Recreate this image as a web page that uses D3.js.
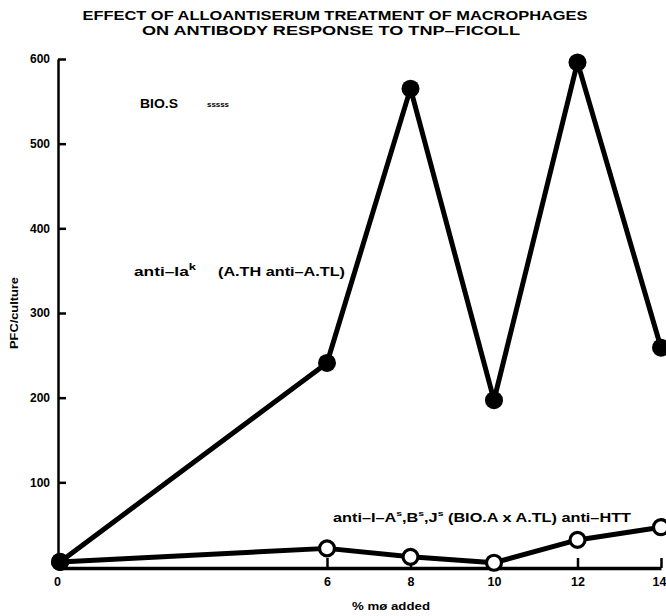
<!DOCTYPE html>
<html>
<head>
<meta charset="utf-8">
<script src="https://cdn.jsdelivr.net/npm/d3@7"></script>
<style>
  html, body { margin: 0; padding: 0; background: #fff; }
  svg { display: block; }
  text { font-family: "Liberation Sans", Arial, Helvetica, sans-serif; font-weight: bold; fill: #000; }
</style>
</head>
<body>
<svg id="chart" width="666" height="616"></svg>
<script>
// ---- data ----
const percentAdded = [0, 6, 8, 10, 12, 14];
const antiIak = [6, 241, 565, 197, 596, 259];          // filled circles
const antiIAsBsJs = [6, 22, 12, 5, 32, 47];             // open circles
const yTicks = [0, 100, 200, 300, 400, 500, 600];
const xTicks = [0, 6, 8, 10, 12, 14];
const titleLines = ["EFFECT OF ALLOANTISERUM TREATMENT OF MACROPHAGES", "ON ANTIBODY RESPONSE TO TNP\u2013FICOLL"];

const svg = d3.select("#chart");

// polylinear x scale (axis is compressed between 0 and 6)
const x = d3.scaleLinear().domain([0, 6, 14]).range([60, 327, 661]);
const y = d3.scaleLinear().domain([0, 600]).range([567, 59]);

// title
svg.append("text").attr("x", 335).attr("y", 20).attr("text-anchor", "middle")
  .attr("font-size", 13.5).attr("textLength", 505).attr("lengthAdjust", "spacingAndGlyphs")
  .text(titleLines[0]);
svg.append("text").attr("x", 331).attr("y", 35).attr("text-anchor", "middle")
  .attr("font-size", 13.5).attr("textLength", 378).attr("lengthAdjust", "spacingAndGlyphs")
  .text(titleLines[1]);

// y axis
const yAxis = svg.append("g").attr("transform", `translate(${x(0) - 2},0)`)
  .call(d3.axisLeft(y).tickValues(yTicks.filter(d => d > 0)).tickSizeInner(-8).tickSizeOuter(0).tickPadding(8));
yAxis.select(".domain").attr("stroke", "#000").attr("stroke-width", 2.5);
yAxis.selectAll(".tick line").attr("stroke", "#000").attr("stroke-width", 2.5);
yAxis.selectAll(".tick text").attr("font-size", 12).attr("font-family", "Liberation Sans, Arial, sans-serif").attr("font-weight", "bold");

// x axis
const xAxis = svg.append("g").attr("transform", `translate(0,${y(0) + 1})`)
  .call(d3.axisBottom(x).tickValues(xTicks).tickSizeInner(-10).tickSizeOuter(0).tickPadding(9));
xAxis.select(".domain").attr("stroke", "#000").attr("stroke-width", 3.5);
xAxis.selectAll(".tick line").attr("stroke", "#000").attr("stroke-width", 2.5)
  .filter(d => d === 0).remove();
xAxis.selectAll(".tick text").attr("font-size", 12.5).attr("font-family", "Liberation Sans, Arial, sans-serif").attr("font-weight", "bold");
xAxis.selectAll(".tick").filter(d => d === 0).select("text").attr("x", -3);
xAxis.selectAll(".tick").filter(d => d === 14).select("text").attr("text-anchor", "end").attr("x", 5);

// axis titles
svg.append("text").attr("transform", `translate(18,${y(300)}) rotate(-90)`).attr("text-anchor", "middle")
  .attr("font-size", 11).attr("textLength", 72).attr("lengthAdjust", "spacingAndGlyphs").text("PFC/culture");
svg.append("text").attr("x", 391).attr("y", 610).attr("text-anchor", "middle")
  .attr("font-size", 11.5).attr("textLength", 78).attr("lengthAdjust", "spacingAndGlyphs").text("% m\u00f8 added");

// lines
const line = d3.line().x((d, i) => x(percentAdded[i])).y(d => y(d));
svg.append("path").datum(antiIak).attr("d", line).attr("fill", "none").attr("stroke", "#000").attr("stroke-width", 5).attr("stroke-linejoin", "round");
svg.append("path").datum(antiIAsBsJs).attr("d", line).attr("fill", "none").attr("stroke", "#000").attr("stroke-width", 5).attr("stroke-linejoin", "round");

// markers
svg.append("g").selectAll("circle").data(antiIAsBsJs).join("circle")
  .attr("cx", (d, i) => x(percentAdded[i])).attr("cy", d => y(d)).attr("r", 7.5)
  .attr("fill", "#fff").attr("stroke", "#000").attr("stroke-width", 3.2);
svg.append("g").selectAll("circle").data(antiIak).join("circle")
  .attr("cx", (d, i) => x(percentAdded[i])).attr("cy", d => y(d)).attr("r", 9)
  .attr("fill", "#000");

// annotations
svg.append("text").attr("x", 140).attr("y", 108).attr("font-size", 12.5)
  .attr("textLength", 38).attr("lengthAdjust", "spacingAndGlyphs").text("BIO.S");
svg.append("text").attr("x", 207).attr("y", 107).attr("font-size", 8)
  .attr("textLength", 22).attr("lengthAdjust", "spacingAndGlyphs").text("sssss");

const t1 = svg.append("text").attr("x", 134).attr("y", 276).attr("font-size", 12)
  .attr("textLength", 62).attr("lengthAdjust", "spacingAndGlyphs");
t1.append("tspan").text("anti\u2013Ia");
t1.append("tspan").attr("font-size", 9).attr("dy", -6).text("k");
svg.append("text").attr("x", 218).attr("y", 276).attr("font-size", 12.5)
  .attr("textLength", 127).attr("lengthAdjust", "spacingAndGlyphs").text("(A.TH anti\u2013A.TL)");

const t2 = svg.append("text").attr("x", 333).attr("y", 522).attr("font-size", 12.5)
  .attr("textLength", 298).attr("lengthAdjust", "spacingAndGlyphs");
t2.append("tspan").text("anti\u2013I\u2013A");
t2.append("tspan").attr("font-size", 8).attr("dy", -6).text("s");
t2.append("tspan").attr("dy", 6).text(",B");
t2.append("tspan").attr("font-size", 8).attr("dy", -6).text("s");
t2.append("tspan").attr("dy", 6).text(",J");
t2.append("tspan").attr("font-size", 8).attr("dy", -6).text("s");
t2.append("tspan").attr("dy", 6).text(" (BIO.A x A.TL) anti\u2013HTT");
</script>
</body>
</html>
